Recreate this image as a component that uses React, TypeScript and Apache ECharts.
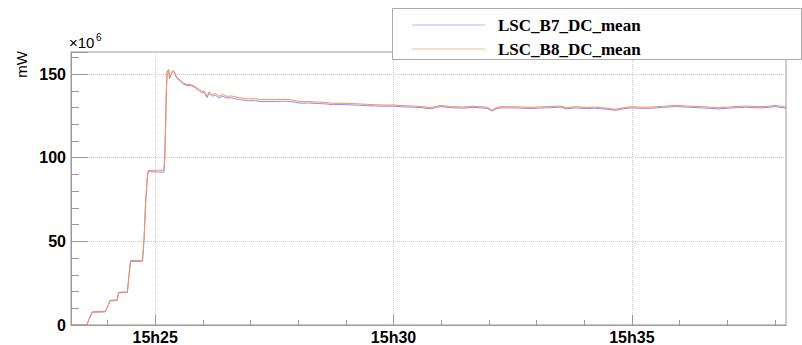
import React, { useEffect, useRef } from "react";
import * as echarts from "echarts";

// Time axis: seconds after 15:00:00
const T_START = 1394;
const T_END = 2294;
const Y_MAX = 163.2;

const seriesNames = ["LSC_B7_DC_mean", "LSC_B8_DC_mean"];
const seriesColors = ["#8c8cff", "#ff8f4a"];

const timeSec = [
  1394, 1414, 1417, 1421, 1437, 1440, 1443, 1452, 1454, 1465, 1467, 1469, 1484, 1486, 1488, 1490, 1491, 1500, 1511,
  1512, 1513, 1514, 1515, 1517, 1518, 1520, 1522, 1524, 1527, 1531, 1535, 1540, 1546, 1550, 1556, 1559, 1562, 1565,
  1568, 1572, 1576, 1580, 1585, 1590, 1596, 1603, 1609, 1617, 1625, 1632, 1642, 1653, 1661, 1670, 1676, 1683, 1693,
  1704, 1714, 1724, 1735, 1745, 1756, 1766, 1777, 1787, 1800, 1812, 1825, 1836, 1846, 1859, 1872, 1888, 1899, 1909,
  1918, 1924, 1929, 1934, 1951, 1962, 1972, 1985, 1998, 2010, 2018, 2030, 2043, 2053, 2062, 2070, 2079, 2090, 2100,
  2112, 2125, 2140, 2155, 2170, 2188, 2198, 2209, 2225, 2243, 2259, 2270, 2280, 2294,
];

const b7 = [
  0, 0, 3.8, 7.6, 7.8, 10.8, 14.4, 14.6, 19.2, 19.4, 29.6, 38, 38.1, 51.5, 73.5, 87.5, 91.6, 91.5, 91.4,
  99, 117, 139, 151.2, 152.3, 147.3, 149.6, 151.7, 151, 147.6, 146.2, 144.2, 143.1, 143.0, 141.9, 139.8, 138.8, 138.9, 135.9,
  138.4, 136.8, 137.3, 135.7, 136.8, 135.7, 135.8, 135.0, 134.6, 134.0, 134.1, 133.6, 133.6, 133.6, 133.8, 133.6, 133.1, 132.6, 132.7,
  132.4, 132.2, 131.7, 131.8, 131.6, 131.4, 131.1, 130.9, 130.8, 130.8, 130.4, 130.2, 129.9, 129.2, 130.6, 129.9, 129.6, 130.1, 129.8,
  129.5, 127.9, 129.1, 129.8, 129.8, 129.6, 129.4, 129.7, 129.9, 130.2, 129.2, 129.8, 129.3, 129.6, 129.2, 128.9, 128.3, 129.3, 129.8,
  129.5, 129.6, 130.1, 130.6, 130.2, 129.8, 129.5, 129.2, 129.7, 130.2, 129.8, 130.0, 130.6, 129.6,
];

const b8 = [
  0, 0, 4, 8, 8.2, 11, 14.8, 15, 19.6, 19.8, 30, 38.6, 38.7, 52, 74, 88, 92.3, 92.5, 92.6,
  100, 118, 140, 151.7, 152.7, 147.7, 150, 152.1, 151.5, 148.1, 146.7, 144.7, 143.7, 143.7, 142.7, 140.7, 139.7, 139.8, 136.7,
  139.3, 137.7, 138.3, 136.7, 137.8, 136.7, 136.9, 136.1, 135.7, 135.1, 135.3, 134.7, 134.8, 134.7, 134.9, 134.7, 134.1, 133.5, 133.6,
  133.3, 133.1, 132.5, 132.6, 132.4, 132.2, 131.9, 131.7, 131.5, 131.5, 131.1, 130.9, 130.6, 129.9, 131.3, 130.6, 130.3, 130.8, 130.5,
  130.2, 128.5, 129.8, 130.5, 130.5, 130.3, 130.1, 130.4, 130.6, 130.9, 129.9, 130.5, 130.0, 130.3, 129.9, 129.6, 128.9, 130.0, 130.5,
  130.2, 130.3, 130.8, 131.3, 130.9, 130.5, 130.2, 129.9, 130.4, 130.9, 130.5, 130.7, 131.3, 130.3,
];

const categories = Array.from({ length: T_END - T_START + 1 }, (_, i) => String(T_START + i));

const isMajor = (_i: number, v: string) => Number(v) % 300 === 0;
const isMinor = (_i: number, v: string) => Number(v) % 60 === 0;
const fmtTime = (v: string) => {
  const s = Number(v);
  const m = Math.round(s / 60);
  const h = 15 + Math.floor(m / 60);
  const mm = m % 60;
  return `${h}h${mm < 10 ? "0" + mm : mm}`;
};

const GRID = { left: 71, right: 16, top: 52, bottom: 20 };
const AXIS_COLOR = "#999";
const GRID_LINE = "#cfcfcf";
const SANS = "'Liberation Sans', Arial, Helvetica, sans-serif";
const SERIF = "'Liberation Serif', 'Times New Roman', serif";

export default function App() {
  const ref = useRef<HTMLDivElement>(null);

  useEffect(() => {
    if (!ref.current) return;
    const chart = echarts.init(ref.current, undefined, { renderer: "svg" });
    const toPairs = (vals: number[]) => timeSec.map((t, i) => [t - T_START, vals[i]]);

    chart.setOption({
      animation: false,
      backgroundColor: "#fff",
      grid: [
        { ...GRID, show: true, borderColor: AXIS_COLOR, borderWidth: 1, backgroundColor: "transparent" },
        { ...GRID, show: false },
      ],
      xAxis: [
        {
          type: "category",
          gridIndex: 0,
          data: categories,
          boundaryGap: false,
          axisLine: { show: true, onZero: false, lineStyle: { color: AXIS_COLOR } },
          axisTick: { show: true, inside: true, length: 10, interval: isMajor, lineStyle: { color: AXIS_COLOR } },
          axisLabel: {
            show: true,
            interval: isMajor,
            formatter: fmtTime,
            color: "#000",
            fontFamily: SANS,
            fontWeight: "bold",
            fontSize: 16,
            margin: 4,
          },
          splitLine: { show: true, interval: isMajor, lineStyle: { color: GRID_LINE, type: "dotted", width: 1 } },
        },
        {
          type: "category",
          gridIndex: 1,
          data: categories,
          boundaryGap: false,
          axisLine: { show: false, onZero: false },
          axisTick: { show: true, inside: true, length: 5, interval: isMinor, lineStyle: { color: AXIS_COLOR } },
          axisLabel: { show: false },
          splitLine: { show: false },
        },
      ],
      yAxis: [
        {
          type: "value",
          gridIndex: 0,
          min: 0,
          max: Y_MAX,
          interval: 50,
          axisLine: { show: true, lineStyle: { color: AXIS_COLOR } },
          axisTick: { show: true, inside: true, length: 17, lineStyle: { color: AXIS_COLOR } },
          axisLabel: {
            formatter: (v: number) => (v % 50 === 0 ? String(v) : ""),
            color: "#000",
            fontFamily: SANS,
            fontWeight: "bold",
            fontSize: 16,
            margin: 5,
          },
          splitLine: { show: true, lineStyle: { color: GRID_LINE, type: "dotted", width: 1 } },
        },
        {
          type: "value",
          gridIndex: 1,
          min: 0,
          max: Y_MAX,
          interval: 10,
          axisLine: { show: false },
          axisTick: { show: true, inside: true, length: 8, lineStyle: { color: AXIS_COLOR } },
          axisLabel: { show: false },
          splitLine: { show: false },
        },
      ],
      legend: {
        orient: "vertical",
        left: 407,
        top: 10,
        itemWidth: 73,
        itemHeight: 1.2,
        itemGap: 4,
        icon: "rect",
        z: 20,
        itemStyle: { opacity: 0.65 },
        textStyle: {
          fontFamily: SERIF,
          fontWeight: "bold",
          fontSize: 17,
          color: "#000",
          lineHeight: 20,
          padding: [0, 0, 0, 8],
        },
        data: seriesNames,
      },
      graphic: [
        {
          type: "rect",
          z: 10,
          shape: { x: 392.5, y: 8.5, width: 409, height: 51 },
          style: { fill: "#fff", stroke: "#aaa", lineWidth: 1 },
        },
        {
          type: "text",
          z: 10,
          x: 69,
          y: 50,
          style: { text: "×10", fontSize: 15, fontFamily: SANS, fill: "#000", align: "left", verticalAlign: "bottom" },
        },
        {
          type: "text",
          z: 10,
          x: 96,
          y: 32,
          style: { text: "6", fontSize: 10, fontFamily: SANS, fill: "#000", align: "left", verticalAlign: "top" },
        },
        {
          type: "text",
          z: 10,
          x: 21,
          y: 51,
          rotation: Math.PI / 2,
          style: { text: "mW", fontSize: 15, fontFamily: SANS, fill: "#000", align: "right", verticalAlign: "middle" },
        },
      ],
      series: seriesNames.map((name, k) => ({
        name,
        type: "line",
        xAxisIndex: 0,
        yAxisIndex: 0,
        data: toPairs(k === 0 ? b7 : b8),
        showSymbol: false,
        symbol: "none",
        color: seriesColors[k],
        lineStyle: { width: 1, color: seriesColors[k] },
        z: 2 + k,
      })),
    });

    return () => chart.dispose();
  }, []);

  return <div ref={ref} style={{ position: "absolute", left: 0, top: 0, width: 802, height: 345 }} />;
}
